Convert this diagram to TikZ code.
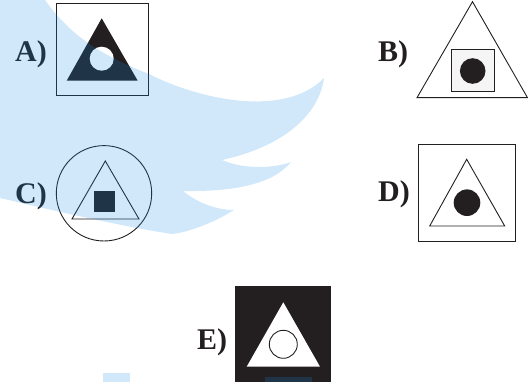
\documentclass[tikz,border=0pt]{standalone}
\usepackage{fontspec}
\setmainfont{Liberation Serif}
\usetikzlibrary{positioning}
\definecolor{ink}{RGB}{35,31,32}
\definecolor{wmblue}{RGB}{20,140,230}

\tikzset{
  optlabel/.style={font=\fontsize{30}{30}\selectfont\bfseries, text=ink, inner sep=0pt, anchor=base west},
  figline/.style={draw=ink, line width=0.9pt},
  watermark/.style={fill=wmblue, opacity=0.2}
}

\begin{document}
\begin{tikzpicture}[x=1pt, y=-1pt]
\useasboundingbox (0,0) rectangle (528,382);

%---------------------------------------
% Option A
%---------------------------------------
\begin{scope}
  \node[optlabel] (labA) at (15,62) {A)};
  \draw[figline] (56,3) rectangle (148,95);
  \fill[ink] (101.7,18.3) -- (66.7,80.7) -- (137.7,80.7) -- cycle;
  \fill[white] (101.7,58.7) circle (12);
\end{scope}

%---------------------------------------
% Option B
%---------------------------------------
\begin{scope}
  \node[optlabel] (labB) at (378,62) {B)};
  \draw[figline] (472.5,1.7) -- (417,97.7) -- (527.5,97.7) -- cycle;
  \draw[figline, fill=black!4] (451.3,49.3) rectangle (494,91.7);
  \fill[ink] (472.7,71) circle (12.8);
\end{scope}

%---------------------------------------
% Option C
%---------------------------------------
\begin{scope}
  \node[optlabel] (labC) at (15,204) {C)};
  \draw[figline] (104,193.3) circle (47.7);
  \draw[figline] (105.3,161) -- (72,219) -- (139,219) -- cycle;
  \fill[ink] (94,191) rectangle (115,211.7);
\end{scope}

%---------------------------------------
% Option D
%---------------------------------------
\begin{scope}
  \node[optlabel] (labD) at (378,202) {D)};
  \draw[figline] (418,144) rectangle (515,241);
  \draw[figline] (466.7,159.3) -- (429.7,226) -- (504.7,226) -- cycle;
  \fill[ink] (467,202.7) circle (13.3);
\end{scope}

%---------------------------------------
% Option E
%---------------------------------------
\begin{scope}
  \node[optlabel] (labE) at (197,349) {E)};
  \fill[ink] (235,286) rectangle (331,383);
  \fill[white] (283.3,302.3) -- (246.7,366.7) -- (320,366.7) -- cycle;
  \draw[figline] (283.3,344.3) circle (14);
\end{scope}

% background logo, laid over everything
\fill[watermark] (0,0) -- (45,0)
  .. controls (70,35) and (100,55) .. (149,74)
  .. controls (200,100) and (285,118) .. (324,78)
  .. controls (320,110) and (290,145) .. (222,160)
  .. controls (245,170) and (275,168) .. (291,162)
  .. controls (275,182) and (240,192) .. (183,191)
  .. controls (200,205) and (220,210) .. (234,210)
  .. controls (215,222) and (190,232) .. (172,234)
  .. controls (120,226) and (60,212) .. (0,198) -- cycle;
\fill[watermark] (103,373) rectangle (130,383);
\fill[watermark] (265,377) rectangle (312,383);

\end{tikzpicture}
\end{document}
